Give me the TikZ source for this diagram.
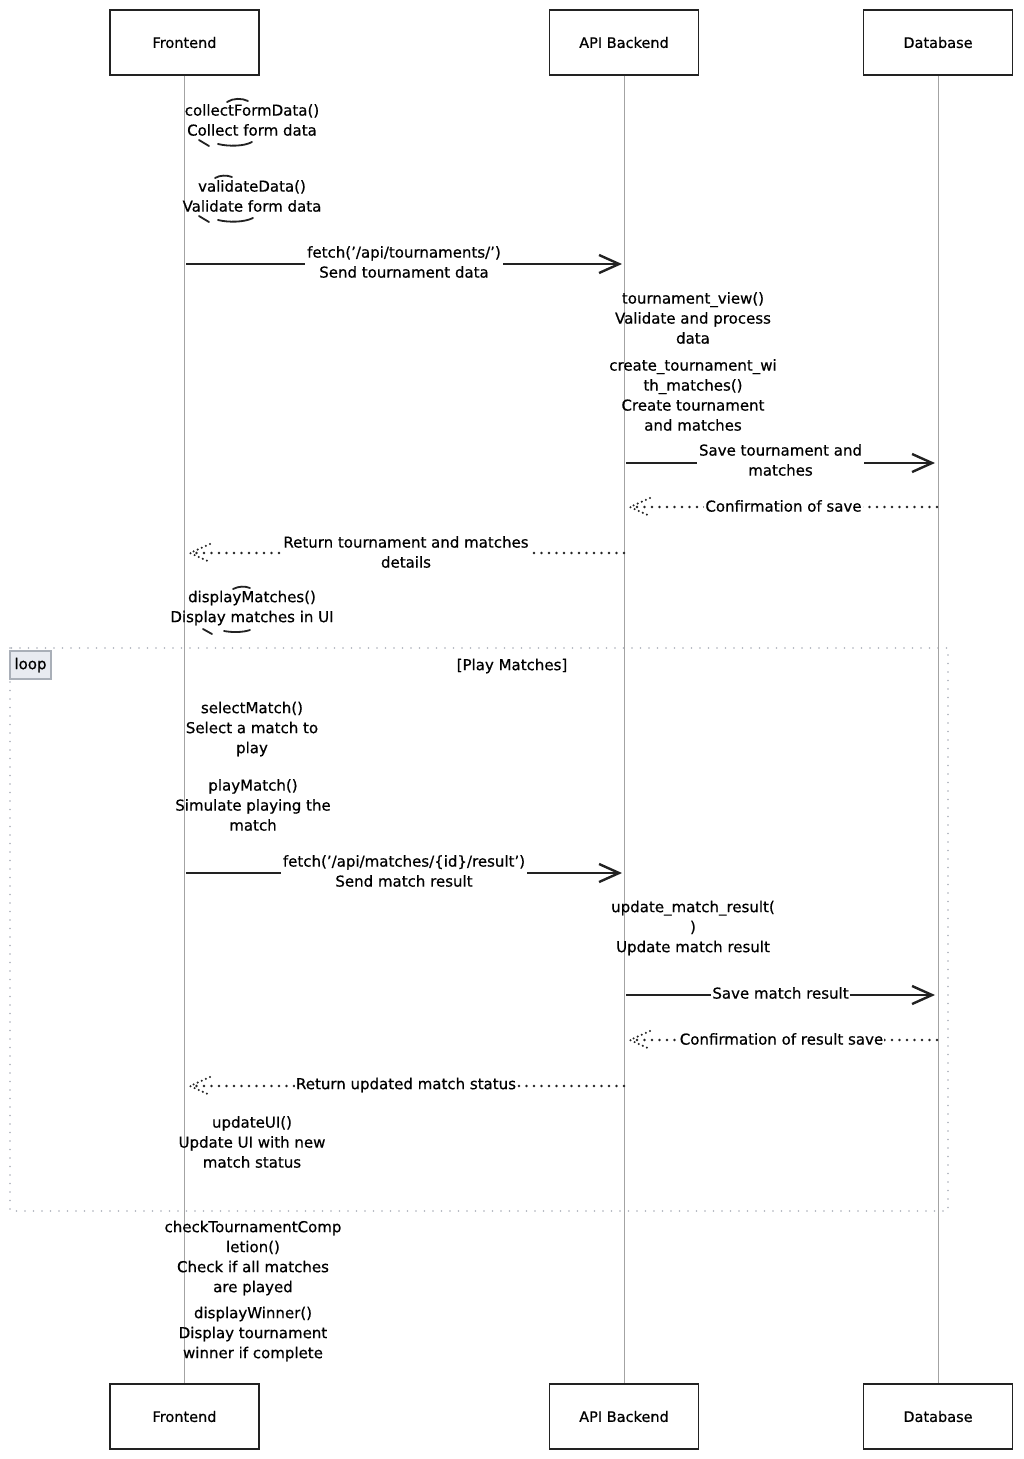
\documentclass[tikz,border=0pt]{standalone}
\usepackage{fontspec}
\setmainfont[FakeBold=0.6,AutoFakeBold=0.6]{DejaVu Sans}
\usetikzlibrary{arrows.meta,calc}
\definecolor{ink}{HTML}{222222}
\definecolor{lifegray}{HTML}{A3A3A3}
\definecolor{loopgray}{HTML}{A9AFB8}
\definecolor{loopfill}{HTML}{E8EBF1}
\begin{document}
\begin{tikzpicture}[x=1pt,y=-1pt,
  actor/.style={draw=ink, line width=1.8pt, fill=white, minimum width=149pt,
    minimum height=65pt, inner sep=0pt, font=\fontsize{14.5}{16}\selectfont},
  lifeline/.style={draw=lifegray, line width=0.9pt},
  note/.style={align=center, font=\fontsize{15}{20}\selectfont, inner sep=1pt},
  msglabel/.style={note, fill=white, inner sep=2pt},
  callline/.style={draw=ink, line width=2.7pt,
    -{Straight Barb[length=20pt,width=18pt,line width=2.4pt]}},
  retline/.style={draw=ink, line width=2.6pt, dash pattern=on 0pt off 7.5pt, line cap=round},
  rettip/.style={draw=ink, line width=2.3pt, dash pattern=on 0pt off 4.5pt, line cap=round},
  loopline/.style={draw=loopgray, line width=1.9pt, dash pattern=on 0pt off 8.5pt, line cap=round},
  selfmark/.style={draw=ink, line width=1.8pt, line cap=round}
]
\path[use as bounding box] (0,0) rectangle (1023,1459);

% loop frame
\draw[loopline] (10,648) rectangle (948,1211);
\node[draw=loopgray, fill=loopfill, line width=1.4pt, minimum width=41pt, minimum height=28pt,
  inner sep=0pt, font=\fontsize{15}{16}\selectfont] (looptag) at (30.5,665) {loop};
\node[note] (loopcond) at (512,666) {[Play Matches]};

% participants
\node[actor] (feTop) at (184.5,42.5) {Frontend};
\node[actor] (apiTop) at (624,42.5) {API Backend};
\node[actor] (dbTop) at (938,42.5) {Database};
\node[actor] (feBot) at (184.5,1416.5) {Frontend};
\node[actor] (apiBot) at (624,1416.5) {API Backend};
\node[actor, line width=1.5pt] (dbBot) at (938,1416.5) {Database};

% lifelines
\draw[lifeline] (feTop.south) -- (feBot.north);
\draw[lifeline] (apiTop.south) -- (apiBot.north);
\draw[lifeline] (dbTop.south) -- (dbBot.north);

% message anchor points on the lifelines
\coordinate (f1) at (186,264);  \coordinate (a1) at (622,264);
\coordinate (a2) at (626,463);  \coordinate (d2) at (935,463);
\coordinate (d3) at (937,507);  \coordinate (a3) at (630,507);
\coordinate (a4) at (624,553);  \coordinate (f4) at (190,553);
\coordinate (f5) at (186,873);  \coordinate (a5) at (622,873);
\coordinate (a6) at (626,995);  \coordinate (d6) at (935,995);
\coordinate (d7) at (937,1040); \coordinate (a7) at (630,1040);
\coordinate (a8) at (624,1086); \coordinate (f8) at (190,1086);

% self calls on the frontend, with the visible bits of their loops
\node[note] (s1) at (252,120) {collectFormData()\\Collect form data};
\draw[selfmark] (227,102) .. controls (233,98) and (242,98) .. (248,101);
\draw[selfmark] (199,140) -- (209,146);
\draw[selfmark] (218,144) .. controls (228,146.5) and (244,146.5) .. (252,142);

\node[note] (s2) at (252,196) {validateData()\\Validate form data};
\draw[selfmark] (215,178) .. controls (220,175) and (227,175) .. (232,177);
\draw[selfmark] (199,216) -- (209,222);
\draw[selfmark] (218,220) .. controls (228,222.5) and (244,222.5) .. (253,218);

% tournament creation
\draw[callline] (f1) -- (a1) node[msglabel, midway, yshift=2pt] (m1)
  {fetch('/api/tournaments/')\\Send tournament data};

\node[note] (s3) at (693,318) {tournament\_view()\\Validate and process\\data};
\node[note] (s4) at (693,395) {create\_tournament\_wi\\th\_matches()\\Create tournament\\and matches};

\draw[callline] (a2) -- (d2) node[msglabel, midway, yshift=3pt] (m2)
  {Save tournament and\\matches};

\draw[retline] (d3) -- (a3) node[msglabel, midway, xshift=0pt, yshift=1pt, inner sep=1pt] (m3)
  {Confirmation of save};
\draw[rettip] ($(a3)+(20,-9)$) -- (a3) -- ($(a3)+(20,9)$);

\draw[retline] (a4) -- (f4) node[msglabel, midway, xshift=-1pt, yshift=1pt] (m4)
  {Return tournament and matches\\details};
\draw[rettip] ($(f4)+(20,-9)$) -- (f4) -- ($(f4)+(20,9)$);

\node[note] (s5) at (252,608) {displayMatches()\\Display matches in UI};
\draw[selfmark] (233,589) .. controls (239,586) and (245,586) .. (250,588);
\draw[selfmark] (203,629) -- (212,634);
\draw[selfmark] (224,631) .. controls (232,632.5) and (243,632.5) .. (250,630);

% playing the matches
\node[note] (s6) at (252,729) {selectMatch()\\Select a match to\\play};
\node[note] (s7) at (253,805) {playMatch()\\Simulate playing the\\match};

\draw[callline] (f5) -- (a5) node[msglabel, midway, yshift=2pt] (m5)
  {fetch('/api/matches/\{id\}/result')\\Send match result};

\node[note] (s8) at (693,928) {update\_match\_result(\\)\\Update match result};

\draw[callline] (a6) -- (d6) node[msglabel, midway, yshift=2pt, inner sep=1pt] (m6)
  {Save match result};

\draw[retline] (d7) -- (a7) node[msglabel, midway, xshift=-2pt, yshift=1pt, inner sep=1pt] (m7)
  {Confirmation of result save};
\draw[rettip] ($(a7)+(20,-9)$) -- (a7) -- ($(a7)+(20,9)$);

\draw[retline] (a8) -- (f8) node[msglabel, midway, xshift=-1pt, yshift=1pt, inner sep=1pt] (m8)
  {Return updated match status};
\draw[rettip] ($(f8)+(20,-9)$) -- (f8) -- ($(f8)+(20,9)$);

\node[note] (s9) at (252,1142) {updateUI()\\Update UI with new\\match status};

% after the loop
\node[note] (s10) at (253,1258) {checkTournamentComp\\letion()\\Check if all matches\\are played};
\node[note] (s11) at (253,1334) {displayWinner()\\Display tournament\\winner if complete};
\end{tikzpicture}
\end{document}
